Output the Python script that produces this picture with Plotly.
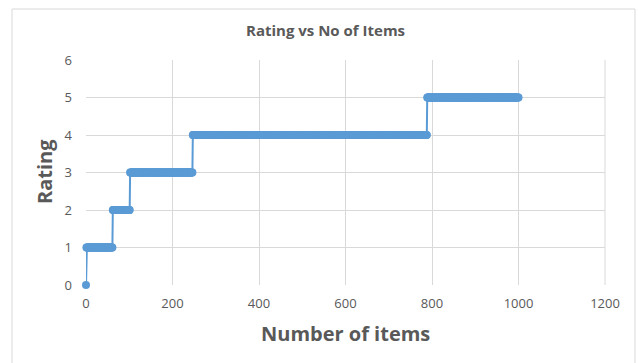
import numpy as np
import plotly.graph_objects as go

# Rating levels and how many consecutive items sit at each level
ratings = [0, 1, 2, 3, 4, 5]
item_counts = [1, 61, 40, 145, 542, 212]

# Axis ticks
x_ticks = [0, 200, 400, 600, 800, 1000, 1200]
y_ticks = [0, 1, 2, 3, 4, 5, 6]

items = np.arange(sum(item_counts))
item_rating = np.repeat(ratings, item_counts)

BLUE = "#5B9BD5"
GREY_TXT = "#595959"
GRID = "#D9D9D9"
FONT = "Open Sans"

fig = go.Figure()
fig.add_trace(go.Scatter(
    x=items, y=item_rating,
    mode="lines+markers",
    line=dict(color=BLUE, width=2),
    marker=dict(color=BLUE, size=8, line=dict(width=0)),
    showlegend=False,
    hoverinfo="x+y",
    cliponaxis=False,
))

# plot area geometry in pixels
W, H = 638, 363
L, R, T, B = 86, 33, 60, 78
pw, ph = W - L - R, H - T - B

def px(xp):
    return (xp - L) / pw

def py(yp):
    return (H - B - yp) / ph

fig.update_layout(
    width=W, height=H,
    margin=dict(l=L, r=R, t=T, b=B),
    paper_bgcolor="white", plot_bgcolor="white",
    font=dict(family=FONT, color=GREY_TXT, size=13),
    xaxis=dict(
        range=[0, 1200], tickvals=x_ticks, showgrid=True, gridcolor=GRID,
        gridwidth=1, zeroline=False, showline=False, ticks="",
        tickfont=dict(size=13, color=GREY_TXT, family=FONT),
        ticklabelstandoff=9, fixedrange=True,
    ),
    yaxis=dict(
        range=[0, 6], tickvals=y_ticks, showgrid=True, gridcolor=GRID,
        gridwidth=1, zeroline=False, showline=False, ticks="",
        tickfont=dict(size=13, color=GREY_TXT, family=FONT),
        ticklabelstandoff=13, fixedrange=True,
    ),
    shapes=[
        # plot-area right border
        dict(type="line", xref="paper", yref="paper", x0=1, x1=1, y0=0, y1=1,
             line=dict(color=GRID, width=1)),
        # chart-area frame
        dict(type="rect", xref="paper", yref="paper",
             x0=px(12), x1=px(635), y0=py(370), y1=py(9),
             line=dict(color=GRID, width=1), layer="below"),
    ],
    annotations=[
        dict(text="<b>Rating vs No of Items</b>", xref="paper", yref="paper",
             x=px(325), y=py(30), showarrow=False,
             xanchor="center", yanchor="middle",
             font=dict(size=15, color=GREY_TXT, family=FONT)),
        dict(text="<b>Rating</b>", xref="paper", yref="paper",
             x=px(44), y=py(172), showarrow=False, textangle=-90,
             xanchor="center", yanchor="middle",
             font=dict(size=20, color=GREY_TXT, family=FONT)),
        dict(text="<b>Number of items</b>", xref="paper", yref="paper",
             x=px(345), y=py(333), showarrow=False,
             xanchor="center", yanchor="middle",
             font=dict(size=20, color=GREY_TXT, family=FONT)),
    ],
)

fig.write_html("out.html")
